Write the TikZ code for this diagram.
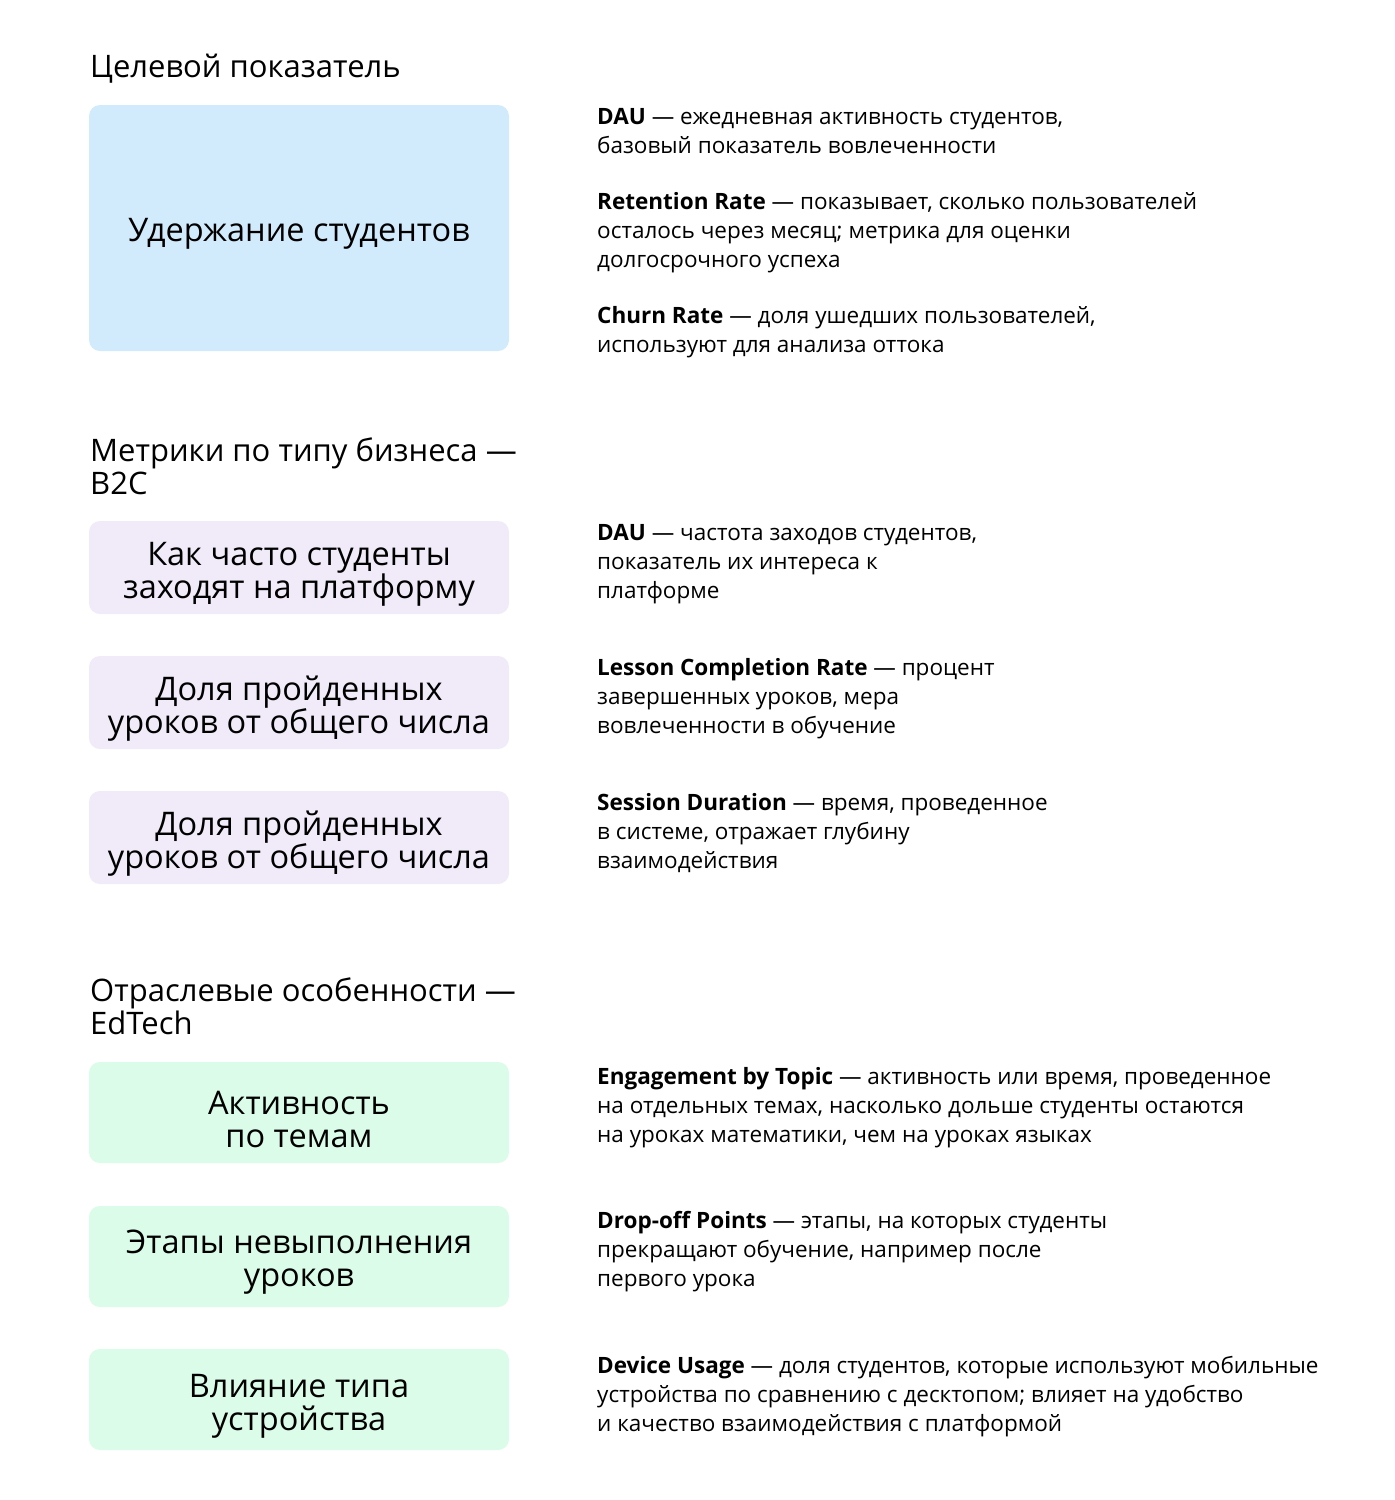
\documentclass[tikz,border=0pt]{standalone}
\usepackage{fontspec}
\setmainfont{Open Sans}
\definecolor{bluebox}{HTML}{D2EBFC}
\definecolor{purplebox}{HTML}{F1EAF8}
\definecolor{greenbox}{HTML}{DAFCE9}
\newcommand{\hstrut}{\rule{0pt}{32pt}}
\newcommand{\dstrut}{\rule{0pt}{26pt}}
\begin{document}
\begin{tikzpicture}[x=1pt,y=-1pt,
  heading/.style={anchor=north west, inner sep=0pt, align=left, font=\fontsize{31}{33}\selectfont},
  card/.style={rounded corners=11pt, draw=none},
  cardtext/.style={anchor=center, inner sep=0pt, align=center, font=\fontsize{32.5}{33}\selectfont},
  desc/.style={anchor=north west, inner sep=0pt, align=left, font=\fontsize{22.5}{29}\selectfont}
]
\useasboundingbox[fill=white] (0,0) rectangle (1395,1500);

% Section 1
\node[heading] (h1) at (90,77-32) {\hstrut Целевой показатель};
\fill[card, bluebox] (89,105) rectangle (509,351);
\node[cardtext] (c1) at (299,234) {Удержание студентов};
\node[desc] (d1) at (597,124-26) {\dstrut\textbf{DAU} — ежедневная активность студентов,\\базовый показатель вовлеченности};
\node[desc] (d2) at (597,209-26) {\dstrut\textbf{Retention Rate} — показывает, сколько пользователей\\осталось через месяц; метрика для оценки\\долгосрочного успеха};
\node[desc] (d3) at (597,323-26) {\dstrut\textbf{Churn Rate} — доля ушедших пользователей,\\используют для анализа оттока};

% Section 2
\node[heading] (h2) at (90,461-32) {\hstrut Метрики по типу бизнеса —\\B2C};
\fill[card, purplebox] (89,521) rectangle (509,614);
\node[cardtext] (c2) at (299,574) {Как часто студенты\\заходят на платформу};
\fill[card, purplebox] (89,656) rectangle (509,749);
\node[cardtext] (c3) at (299,709) {Доля пройденных\\уроков от общего числа};
\fill[card, purplebox] (89,791) rectangle (509,884);
\node[cardtext] (c4) at (299,844) {Доля пройденных\\уроков от общего числа};
\node[desc] (d4) at (597,540-26) {\dstrut\textbf{DAU} — частота заходов студентов,\\показатель их интереса к\\платформе};
\node[desc] (d5) at (597,675-26) {\dstrut\textbf{Lesson Completion Rate} — процент\\завершенных уроков, мера\\вовлеченности в обучение};
\node[desc] (d6) at (597,810-26) {\dstrut\textbf{Session Duration} — время, проведенное\\в системе, отражает глубину\\взаимодействия};

% Section 3
\node[heading] (h3) at (90,1001-32) {\hstrut Отраслевые особенности —\\EdTech};
\fill[card, greenbox] (89,1062) rectangle (509,1163);
\node[cardtext] (c5) at (299,1119) {Активность\\по темам};
\fill[card, greenbox] (89,1206) rectangle (509,1307);
\node[cardtext] (c6) at (299,1262) {Этапы невыполнения\\уроков};
\fill[card, greenbox] (89,1349) rectangle (509,1450);
\node[cardtext] (c7) at (299,1406) {Влияние типа\\устройства};
\node[desc] (d7) at (597,1084-26) {\dstrut\textbf{Engagement by Topic} — активность или время, проведенное\\на отдельных темах, насколько дольше студенты остаются\\на уроках математики, чем на уроках языках};
\node[desc] (d8) at (597,1228-26) {\dstrut\textbf{Drop-off Points} — этапы, на которых студенты\\прекращают обучение, например после\\первого урока};
\node[desc] (d9) at (597,1373-26) {\dstrut\textbf{Device Usage} — доля студентов, которые используют мобильные\\устройства по сравнению с десктопом; влияет на удобство\\и качество взаимодействия с платформой};
\end{tikzpicture}
\end{document}
